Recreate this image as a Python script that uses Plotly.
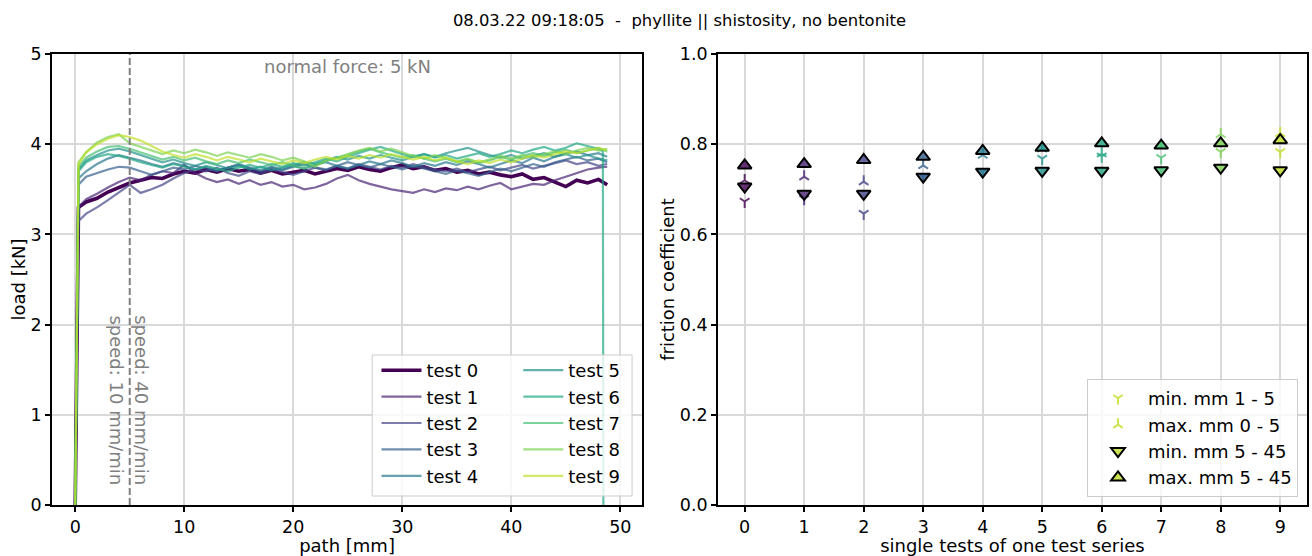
import plotly.graph_objects as go

# ---------------- data ----------------
path_mm = [0, 0.3, 1, 2, 3, 4, 5, 6, 7, 8, 9, 10, 11, 12, 13, 14, 15, 16, 17, 18, 19, 20,
           21, 22, 23, 24, 25, 26, 27, 28, 29, 30, 31, 32, 33, 34, 35, 36, 37, 38, 39, 40,
           41, 42, 43, 44, 45, 46, 47, 48, 48.8]

load_test0 = [0.0, 3.30, 3.36, 3.40, 3.47, 3.52, 3.57, 3.60, 3.63, 3.62, 3.67, 3.70, 3.68, 3.72, 3.69, 3.73,
              3.70, 3.72, 3.68, 3.71, 3.67, 3.69, 3.71, 3.67, 3.70, 3.73, 3.71, 3.75, 3.72, 3.70, 3.74, 3.77,
              3.73, 3.75, 3.71, 3.73, 3.69, 3.71, 3.67, 3.69, 3.66, 3.64, 3.67, 3.61, 3.63, 3.58, 3.53, 3.60,
              3.57, 3.61, 3.55]
load_test1 = [0.0, 3.30, 3.39, 3.45, 3.52, 3.58, 3.63, 3.60, 3.66, 3.70, 3.68, 3.77, 3.68, 3.62, 3.58, 3.61,
              3.56, 3.60, 3.55, 3.58, 3.53, 3.55, 3.50, 3.52, 3.56, 3.62, 3.66, 3.60, 3.56, 3.53, 3.50, 3.48,
              3.46, 3.50, 3.47, 3.51, 3.49, 3.53, 3.50, 3.54, 3.57, 3.50, 3.53, 3.56, 3.55, 3.60, 3.64, 3.68,
              3.72, 3.74, 3.75]
load_test2 = [0.0, 3.15, 3.23, 3.30, 3.38, 3.47, 3.55, 3.46, 3.50, 3.55, 3.62, 3.68, 3.72, 3.70, 3.74, 3.68,
              3.65, 3.70, 3.67, 3.72, 3.69, 3.66, 3.70, 3.74, 3.71, 3.76, 3.73, 3.78, 3.75, 3.72, 3.76, 3.74,
              3.78, 3.75, 3.72, 3.70, 3.73, 3.69, 3.72, 3.75, 3.71, 3.74, 3.77, 3.73, 3.76, 3.79, 3.82, 3.78,
              3.80, 3.76, 3.78]
load_test3 = [0.0, 3.55, 3.64, 3.68, 3.72, 3.75, 3.74, 3.70, 3.66, 3.70, 3.74, 3.72, 3.76, 3.73, 3.70, 3.74,
              3.77, 3.73, 3.70, 3.74, 3.71, 3.75, 3.78, 3.74, 3.72, 3.76, 3.80, 3.77, 3.74, 3.78, 3.75, 3.72,
              3.76, 3.73, 3.70, 3.67, 3.71, 3.68, 3.65, 3.69, 3.73, 3.70, 3.74, 3.78, 3.75, 3.80, 3.83, 3.86,
              3.82, 3.84, 3.80]
load_test4 = [0.0, 3.62, 3.70, 3.78, 3.84, 3.88, 3.85, 3.82, 3.78, 3.75, 3.79, 3.76, 3.72, 3.75, 3.71, 3.74,
              3.78, 3.74, 3.71, 3.75, 3.72, 3.76, 3.73, 3.77, 3.80, 3.76, 3.73, 3.77, 3.81, 3.78, 3.82, 3.79,
              3.75, 3.79, 3.76, 3.80, 3.77, 3.81, 3.78, 3.74, 3.78, 3.82, 3.79, 3.85, 3.81, 3.86, 3.90, 3.92,
              3.88, 3.90, 3.86]
load_test5 = [0.0, 3.72, 3.82, 3.88, 3.93, 3.95, 3.92, 3.88, 3.84, 3.80, 3.83, 3.79, 3.76, 3.80, 3.77, 3.73,
              3.76, 3.72, 3.75, 3.71, 3.74, 3.77, 3.80, 3.78, 3.82, 3.86, 3.83, 3.87, 3.84, 3.88, 3.85, 3.82,
              3.86, 3.89, 3.86, 3.90, 3.93, 3.96, 3.92, 3.88, 3.85, 3.88, 3.84, 3.87, 3.90, 3.86, 3.89, 3.85,
              3.88, 3.84, 3.82]
load_test6 = [0.0, 3.70, 3.80, 3.86, 3.89, 3.87, 3.84, 3.80, 3.77, 3.74, 3.78, 3.75, 3.72, 3.76, 3.73, 3.70,
              3.74, 3.77, 3.74, 3.78, 3.75, 3.79, 3.76, 3.80, 3.84, 3.81, 3.86, 3.90, 3.94, 3.97, 3.93, 3.89,
              3.86, 3.89, 3.85, 3.88, 3.84, 3.87, 3.90, 3.86, 3.89, 3.93, 3.90, 3.94, 3.97, 3.93, 3.96, 4.01,
              3.98, 3.95]
test6_tail_mm = [48.4, 48.45]
test6_tail_load = [3.92, 0.0]
load_test7 = [0.0, 3.75, 3.85, 3.92, 3.97, 3.98, 3.95, 3.91, 3.87, 3.83, 3.86, 3.82, 3.85, 3.81, 3.78, 3.82,
              3.79, 3.83, 3.80, 3.77, 3.80, 3.76, 3.73, 3.77, 3.81, 3.85, 3.88, 3.92, 3.95, 3.91, 3.88, 3.85,
              3.88, 3.84, 3.81, 3.84, 3.80, 3.83, 3.79, 3.82, 3.86, 3.83, 3.87, 3.90, 3.87, 3.91, 3.94, 3.90,
              3.93, 3.96, 3.92]
load_test8 = [0.0, 3.80, 3.91, 4.02, 4.08, 4.11, 4.01, 3.97, 3.93, 3.89, 3.93, 3.90, 3.94, 3.91, 3.87, 3.91,
              3.88, 3.85, 3.89, 3.86, 3.82, 3.85, 3.81, 3.75, 3.82, 3.85, 3.89, 3.93, 3.96, 3.92, 3.95, 3.91,
              3.87, 3.84, 3.88, 3.85, 3.81, 3.84, 3.80, 3.83, 3.87, 3.84, 3.88, 3.85, 3.89, 3.92, 3.89, 3.93,
              3.96, 3.93, 3.95]
load_test9 = [0.0, 3.78, 3.91, 4.00, 4.06, 4.10, 4.08, 4.04, 3.98, 3.92, 3.88, 3.85, 3.89, 3.86, 3.82, 3.86,
              3.83, 3.80, 3.84, 3.81, 3.78, 3.82, 3.79, 3.83, 3.86, 3.83, 3.87, 3.84, 3.88, 3.85, 3.89, 3.86,
              3.83, 3.86, 3.82, 3.85, 3.81, 3.78, 3.82, 3.79, 3.83, 3.80, 3.84, 3.88, 3.85, 3.89, 3.92, 3.90,
              3.93, 3.96, 3.93]

test_names = ["test 0", "test 1", "test 2", "test 3", "test 4",
              "test 5", "test 6", "test 7", "test 8", "test 9"]
test_index = [0, 1, 2, 3, 4, 5, 6, 7, 8, 9]

mu_min_1_5 = [0.673, 0.679, 0.646, 0.728, 0.739, 0.768, 0.773, 0.770, 0.783, 0.783]
mu_max_0_5 = [0.720, 0.728, 0.717, 0.753, 0.776, 0.790, 0.779, 0.796, 0.822, 0.824]
mu_min_5_45 = [0.706, 0.690, 0.690, 0.728, 0.739, 0.741, 0.741, 0.742, 0.748, 0.742]
mu_max_5_45 = [0.753, 0.756, 0.765, 0.772, 0.785, 0.792, 0.802, 0.797, 0.802, 0.809]

speed_change_mm = 5
normal_force_kN = 5

# viridis sampled at 0.0, 0.1, ..., 0.9
viridis_rgb = [(68, 1, 84), (72, 36, 117), (65, 68, 135), (53, 95, 141), (42, 120, 142),
               (33, 145, 140), (34, 168, 132), (68, 191, 112), (122, 209, 81), (189, 223, 38)]

FONT = "DejaVu Sans"
GRID = "#d9d9d9"
GRAY = "#808080"

def rgba(c, a):
    return "rgba(%d,%d,%d,%.2f)" % (c[0], c[1], c[2], a)

loads = [load_test0, load_test1, load_test2, load_test3, load_test4,
         load_test5, load_test6, load_test7, load_test8, load_test9]

fig = go.Figure()

for i, ld in enumerate(loads):
    xs = path_mm[:len(ld)]
    ys = list(ld)
    if i == 6:
        xs = xs + test6_tail_mm
        ys = ys + test6_tail_load
    fig.add_trace(go.Scatter(
        x=xs, y=ys, mode="lines", name=test_names[i],
        line=dict(color=rgba(viridis_rgb[i], 1.0 if i == 0 else 0.7),
                  width=3.6 if i == 0 else 2.2),
        legend="legend" if i < 5 else "legend3",
        xaxis="x", yaxis="y",
    ))

# friction coefficients (reversed so the legend swatch shows the last test's colour)
rev = test_index[::-1]
fill_cols = [rgba(viridis_rgb[i], 0.8) for i in rev]

fig.add_trace(go.Scatter(
    x=rev, y=[mu_min_1_5[i] for i in rev], mode="markers", name="min. mm 1 - 5",
    marker=dict(symbol="y-down", size=8, color=fill_cols, line=dict(color=fill_cols, width=2)),
    xaxis="x2", yaxis="y2", legend="legend2"))
fig.add_trace(go.Scatter(
    x=rev, y=[mu_max_0_5[i] for i in rev], mode="markers", name="max. mm 0 - 5",
    marker=dict(symbol="y-up", size=8, color=fill_cols, line=dict(color=fill_cols, width=2)),
    xaxis="x2", yaxis="y2", legend="legend2"))
fig.add_trace(go.Scatter(
    x=rev, y=[mu_min_5_45[i] for i in rev], mode="markers", name="min. mm 5 - 45",
    marker=dict(symbol="triangle-down", size=12, color=fill_cols, line=dict(color="black", width=2)),
    xaxis="x2", yaxis="y2", legend="legend2"))
fig.add_trace(go.Scatter(
    x=rev, y=[mu_max_5_45[i] for i in rev], mode="markers", name="max. mm 5 - 45",
    marker=dict(symbol="triangle-up", size=12, color=fill_cols, line=dict(color="black", width=2)),
    xaxis="x2", yaxis="y2", legend="legend2"))

axis_common = dict(showline=True, linecolor="black", linewidth=1.6, mirror=True,
                   ticks="outside", ticklen=5, tickwidth=1.5, tickcolor="black",
                   showgrid=True, gridcolor=GRID, gridwidth=2.2, zeroline=False,
                   tickfont=dict(family=FONT, size=17.5, color="black"))

fig.update_layout(
    width=1312, height=556,
    margin=dict(l=52, r=3, t=54, b=51),
    paper_bgcolor="white", plot_bgcolor="white",
    font=dict(family=FONT, size=18, color="black"),
    title=dict(text="08.03.22 09:18:05\u00a0 -\u00a0 phyllite || shistosity, no bentonite",
               x=0.5, xref="paper", xanchor="center", y=1 - 20 / 556, yanchor="middle",
               font=dict(family=FONT, size=16.4, color="black")),
    xaxis=dict(domain=[0, 0.4702], range=[-2.13, 52.0], tickvals=[0, 10, 20, 30, 40, 50],
               title=dict(text="path [mm]", standoff=4, font=dict(size=18)), anchor="y", **axis_common),
    yaxis=dict(range=[0, 5], tickvals=[0, 1, 2, 3, 4, 5],
               title=dict(text="load [kN]", standoff=0, font=dict(size=18)), anchor="x", **axis_common),
    xaxis2=dict(domain=[0.5306, 1.0], range=[-0.45, 9.45], tickvals=test_index,
                title=dict(text="single tests of one test series", standoff=4, font=dict(size=18)),
                anchor="y2", **axis_common),
    yaxis2=dict(range=[0, 1.0], tickvals=[0, 0.2, 0.4, 0.6, 0.8, 1.0], tickformat=".1f",
                title=dict(text="friction coefficient", standoff=0, font=dict(size=18)),
                anchor="x2", **axis_common),
    legend=dict(x=(377 - 52) / 1257, xanchor="left", y=(505 - 352) / 451, yanchor="top",
                bgcolor="rgba(0,0,0,0)", borderwidth=0, itemwidth=40,
                font=dict(family=FONT, size=18, color="black"), tracegroupgap=0),
    legend3=dict(x=(519 - 52) / 1257, xanchor="left", y=(505 - 352) / 451, yanchor="top",
                 bgcolor="rgba(0,0,0,0)", borderwidth=0, itemwidth=40,
                 font=dict(family=FONT, size=18, color="black"), tracegroupgap=0),
    legend2=dict(x=(1300 - 52) / 1257, xanchor="right", y=(505 - 497) / 451, yanchor="bottom",
                 bgcolor="rgba(255,255,255,0.8)", bordercolor="#cccccc", borderwidth=1, itemwidth=50,
                 font=dict(family=FONT, size=18, color="black")),
    showlegend=True,
)

# legend frame for the two-column legend
fig.add_shape(type="rect", xref="paper", yref="paper",
              x0=(372.7 - 52) / 1257, x1=(633 - 52) / 1257,
              y0=(505 - 496) / 451, y1=(505 - 355) / 451,
              fillcolor="rgba(255,255,255,0.8)", line=dict(color="#cccccc", width=1), layer="above")

# speed change marker
fig.add_shape(type="line", xref="x", yref="y domain", x0=speed_change_mm, x1=speed_change_mm,
              y0=0, y1=1, line=dict(color=GRAY, width=2, dash="7px,3px"), layer="above")

fig.add_annotation(x=25, y=4.86, xref="x", yref="y", text="normal force: %d kN" % normal_force_kN,
                   showarrow=False, font=dict(family=FONT, size=18, color=GRAY),
                   xanchor="center", yanchor="middle")
fig.add_annotation(x=6.05, y=1.16, xref="x", yref="y", text="speed: 40 mm/min", textangle=90,
                   showarrow=False, font=dict(family=FONT, size=18, color=GRAY),
                   xanchor="center", yanchor="middle")
fig.add_annotation(x=3.83, y=1.16, xref="x", yref="y", text="speed: 10 mm/min", textangle=90,
                   showarrow=False, font=dict(family=FONT, size=18, color=GRAY),
                   xanchor="center", yanchor="middle")

fig.write_html("out.html", config={"displayModeBar": False},
               post_script="document.body.style.margin='0px';")
